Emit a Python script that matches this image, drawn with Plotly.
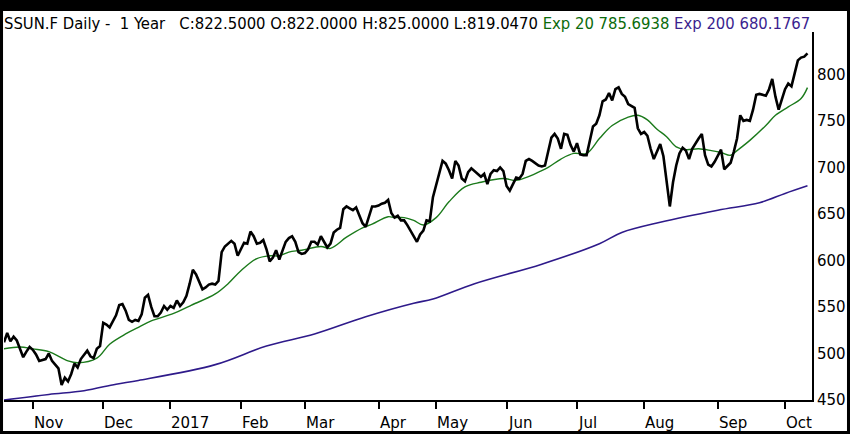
import pandas as pd
import plotly.graph_objects as go

# trading days (Frankfurt), holidays left out of the axis
holidays = ["2016-12-26", "2017-04-14", "2017-04-17", "2017-05-01"]
days = pd.bdate_range("2016-10-19", "2017-10-11")
days = days[~days.isin(pd.to_datetime(holidays))]

# daily close
close = [
    512, 522, 513, 518, 514, 506, 496, 502, 507,  # Oct
    504, 499, 492, 493, 494, 500, 492, 488, 484, 466, 474, 470, 478, 489, 485, 494, 498, 503, 497, 495, 505, 508,  # Nov
    533, 531, 528, 535, 541, 552, 553, 546, 536, 534, 536, 535, 542, 560, 563, 550, 540, 540, 544, 551, 547,  # Dec
    551, 549, 557, 551, 555, 562, 575, 590, 585, 577, 569, 571, 574, 575, 574, 578, 609, 615, 618, 621, 618, 605,  # Jan
    612, 619, 618, 631, 626, 618, 619, 622, 612, 599, 603, 611, 601, 610, 620, 624, 626, 620, 609, 607,  # Feb
    608, 612, 620, 620, 617, 626, 620, 614, 618, 630, 633, 635, 655, 658, 656, 654, 657, 648, 640, 636, 648, 658, 658,  # Mar
    659, 661, 662, 665, 651, 646, 648, 643, 643, 638, 632, 625, 620, 628, 632, 643, 642, 668,  # Apr
    681, 695, 707, 704, 697, 688, 707, 702, 688, 685, 695, 699, 696, 694, 690, 693, 682, 693, 697, 696, 700, 696,  # May
    680, 675, 683, 689, 688, 693, 707, 709, 707, 704, 702, 701, 702, 717, 732, 736, 731, 720, 736, 735, 724, 717,  # Jun
    726, 714, 713, 713, 728, 744, 747, 756, 771, 773, 780, 772, 784, 786, 779, 776, 768, 766, 764, 742, 736,  # Jul
    738, 734, 720, 709, 717, 725, 712, 686, 658, 684, 702, 715, 721, 718, 709, 720, 726, 731, 736, 713, 703, 701, 706,  # Aug
    712, 719, 698, 701, 705, 717, 731, 756, 750, 751, 750, 762, 778, 779, 778, 777, 784, 795, 776, 762, 773,  # Sep
    784, 790, 787, 801, 815, 818, 819, 822.5,  # Oct
]

# Exp 20 read at some trading-day positions
ema20_idx = [0, 5, 9, 14, 20, 23, 29, 33, 38, 42, 46, 53, 58, 66, 70, 74, 79, 83, 86, 89, 93, 99, 102,
             107, 112, 115, 120, 122, 125, 128, 131, 135, 139, 144, 149, 156, 160, 163, 167, 170, 174,
             178, 182, 186, 190, 195, 198, 201, 204, 207, 210, 213, 217, 221, 224, 227, 229, 233, 238,
             241, 245, 249, 251]
ema20_val = [505, 507, 505, 502, 492, 490, 495, 510, 521, 528, 535, 543, 551, 564, 575, 589, 602, 605, 605,
             609, 611, 615, 613, 625, 635, 639, 647, 646, 646, 643, 638, 646, 663, 679, 684, 688, 686, 689,
             695, 700, 709, 715, 715, 731, 745, 754, 756, 751, 741, 733, 722, 719, 720, 718, 716, 713, 718,
             729, 745, 756, 765, 774, 785.69]

# Exp 200
ema200_idx = [0, 14, 25, 35, 42, 66, 82, 97, 113, 128, 134, 147, 168, 186, 193, 205, 223, 236, 244, 251]
ema200_val = [450, 456, 460, 467, 471, 488, 508, 521, 539.5, 554, 558.5, 575, 596, 618, 630, 641, 654,
              662, 672, 680.18]

month_labels = ["Nov", "Dec", "2017", "Feb", "Mar", "Apr", "May", "Jun", "Jul", "Aug", "Sep", "Oct"]
y_ticks = [450, 500, 550, 600, 650, 700, 750, 800]

first_days = days.to_series().groupby(days.to_period("M")).min()
month_starts = list(first_days.iloc[1:])

green = "#1b7a1b"
purple = "#2e1a8a"
font_axis = "DejaVu Sans"

fig = go.Figure()
fig.add_trace(go.Scatter(x=[days[i] for i in ema200_idx], y=ema200_val, mode="lines",
                         line=dict(color=purple, width=1.6, shape="spline"), showlegend=False))
fig.add_trace(go.Scatter(x=[days[i] for i in ema20_idx], y=ema20_val, mode="lines",
                         line=dict(color=green, width=1.4, shape="spline"), showlegend=False))
fig.add_trace(go.Scatter(x=days, y=close, mode="lines",
                         line=dict(color="black", width=2.6), showlegend=False))

fig.update_layout(
    width=850, height=434,
    margin=dict(l=4, r=38, t=32, b=34),
    paper_bgcolor="white", plot_bgcolor="white",
    font=dict(family=font_axis, size=15, color="black"),
    hovermode=False,
    xaxis=dict(
        type="date",
        rangebreaks=[dict(bounds=["sat", "mon"]), dict(values=holidays)],
        range=[days[0], "2017-10-12 10:00"],
        showgrid=False, zeroline=False,
        showline=True, linecolor="black", linewidth=2,
        ticks="outside", ticklen=7, tickwidth=2, tickcolor="black",
        tickvals=month_starts, showticklabels=False,
    ),
    yaxis=dict(
        side="right", range=[450, 845.5],
        tickvals=y_ticks, ticks="",
        showgrid=False, zeroline=False,
        showline=True, linecolor="black", linewidth=2,
        tickfont=dict(size=15),
    ),
)

# month labels start at the tick
for d, lab in zip(month_starts, month_labels):
    fig.add_annotation(x=d, y=0, xref="x", yref="paper", text=lab, showarrow=False,
                       xanchor="left", yanchor="top", xshift=-1, yshift=-12,
                       font=dict(size=15))

nb = "\u00a0"
header = (
    f"SSUN.F Daily -{nb}{nb}1 Year{nb}{nb}{nb}C:822.5000 O:822.0000 H:825.0000 L:819.0470 "
    f"<span style='color:#0b6b0b'>Exp 20 785.6938</span> "
    f"<span style='color:#3b1f8f'>Exp 200 680.1767</span>"
)
fig.add_annotation(x=0, y=1, xref="paper", yref="paper", text=header, showarrow=False,
                   xanchor="left", yanchor="middle", xshift=-2, yshift=9,
                   font=dict(family="DejaVu Sans Condensed, DejaVu Sans", size=16.5))

# black frame round the picture
for x0, x1, y0, y1 in [(-0.1, 1.2, 1.0571, 1.2), (-0.1, -0.0012, -0.2, 1.2),
                       (1.0433, 1.2, -0.2, 1.2), (-0.1, 1.2, -0.2, -0.0842)]:
    fig.add_shape(type="rect", xref="paper", yref="paper", x0=x0, x1=x1, y0=y0, y1=y1,
                  fillcolor="black", line=dict(width=0), layer="above")

# page margin off so the figure sits at the window corner
fig.write_html("out.html", config={"displayModeBar": False},
               post_script="document.body.style.margin='0';")
